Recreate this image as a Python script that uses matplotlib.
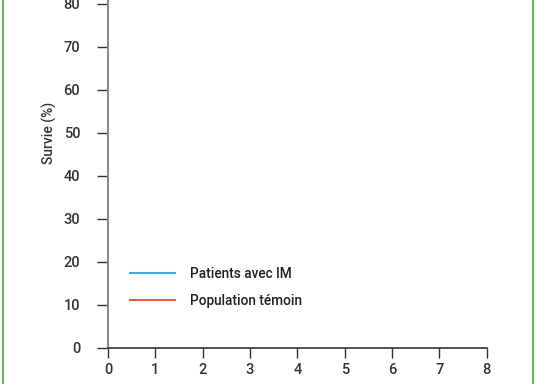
import matplotlib
matplotlib.use("Agg")
import matplotlib.pyplot as plt
from matplotlib.lines import Line2D

# Data
x_ticks = [0, 1, 2, 3, 4, 5, 6, 7, 8]
y_ticks = [0, 10, 20, 30, 40, 50, 60, 70, 80]
series_names = ["Patients avec IM", "Population témoin"]
series_colors = ["#42a9d6", "#e0613c"]
patients_x = []
patients_y = []
temoin_x = []
temoin_y = []
y_label = "Survie (%)"

plt.rcParams['font.family'] = ['Roboto', 'DejaVu Sans']

W, H = 538, 384
fig = plt.figure(figsize=(W / 100, H / 100), dpi=100)
fig.patch.set_facecolor("white")

left = 108 / W
right = 486.7 / W
bottom = (H - 347.7) / H
height = 430 / H
ax = fig.add_axes([left, bottom, right - left, height])
axw_px = right * W - left * W

ax.plot(patients_x, patients_y, color=series_colors[0], lw=1.5, label=series_names[0])
ax.plot(temoin_x, temoin_y, color=series_colors[1], lw=1.5, label=series_names[1])

ax.set_xlim(0, 8)
ax.set_ylim(0, 100)
ax.set_xticks(x_ticks)
ax.set_yticks(y_ticks)
ax.set_xticklabels([str(v) for v in x_ticks])
ax.set_yticklabels([str(v) for v in y_ticks])

for s in ["top", "right"]:
    ax.spines[s].set_visible(False)
ax.spines["left"].set_color("#8a8a8a")
ax.spines["left"].set_linewidth(1.5)
ax.spines["bottom"].set_color("#333333")
ax.spines["bottom"].set_linewidth(1.2)

ax.tick_params(axis="y", direction="out", length=8, width=1, color="#333333",
               labelsize=10.5, labelcolor="#333333", pad=12)
ax.tick_params(axis="x", direction="out", length=7, width=1, color="#333333",
               labelsize=10.5, labelcolor="#333333", pad=4)
for lab in ax.get_xticklabels() + ax.get_yticklabels():
    lab.set_fontweight("medium")

ax.set_ylabel(y_label, fontsize=10, color="#333333", labelpad=5, fontweight="medium")

leg = ax.legend(loc="upper left",
                bbox_to_anchor=(22 / axw_px, (347.7 - 267) / 430),
                frameon=False, handlelength=3.3, handletextpad=1.1,
                labelspacing=0.95, borderpad=0, borderaxespad=0,
                prop={'size': 9.8, 'weight': 'medium'})
for t in leg.get_texts():
    t.set_color("#222222")

# green frame lines
fig.add_artist(Line2D([2.5 / W, 2.5 / W], [0, 1], color="#66b266", lw=1.5, transform=fig.transFigure))
fig.add_artist(Line2D([533.3 / W, 533.3 / W], [0, 1], color="#66b266", lw=1.5, transform=fig.transFigure))

fig.savefig("out.png", dpi=100)
